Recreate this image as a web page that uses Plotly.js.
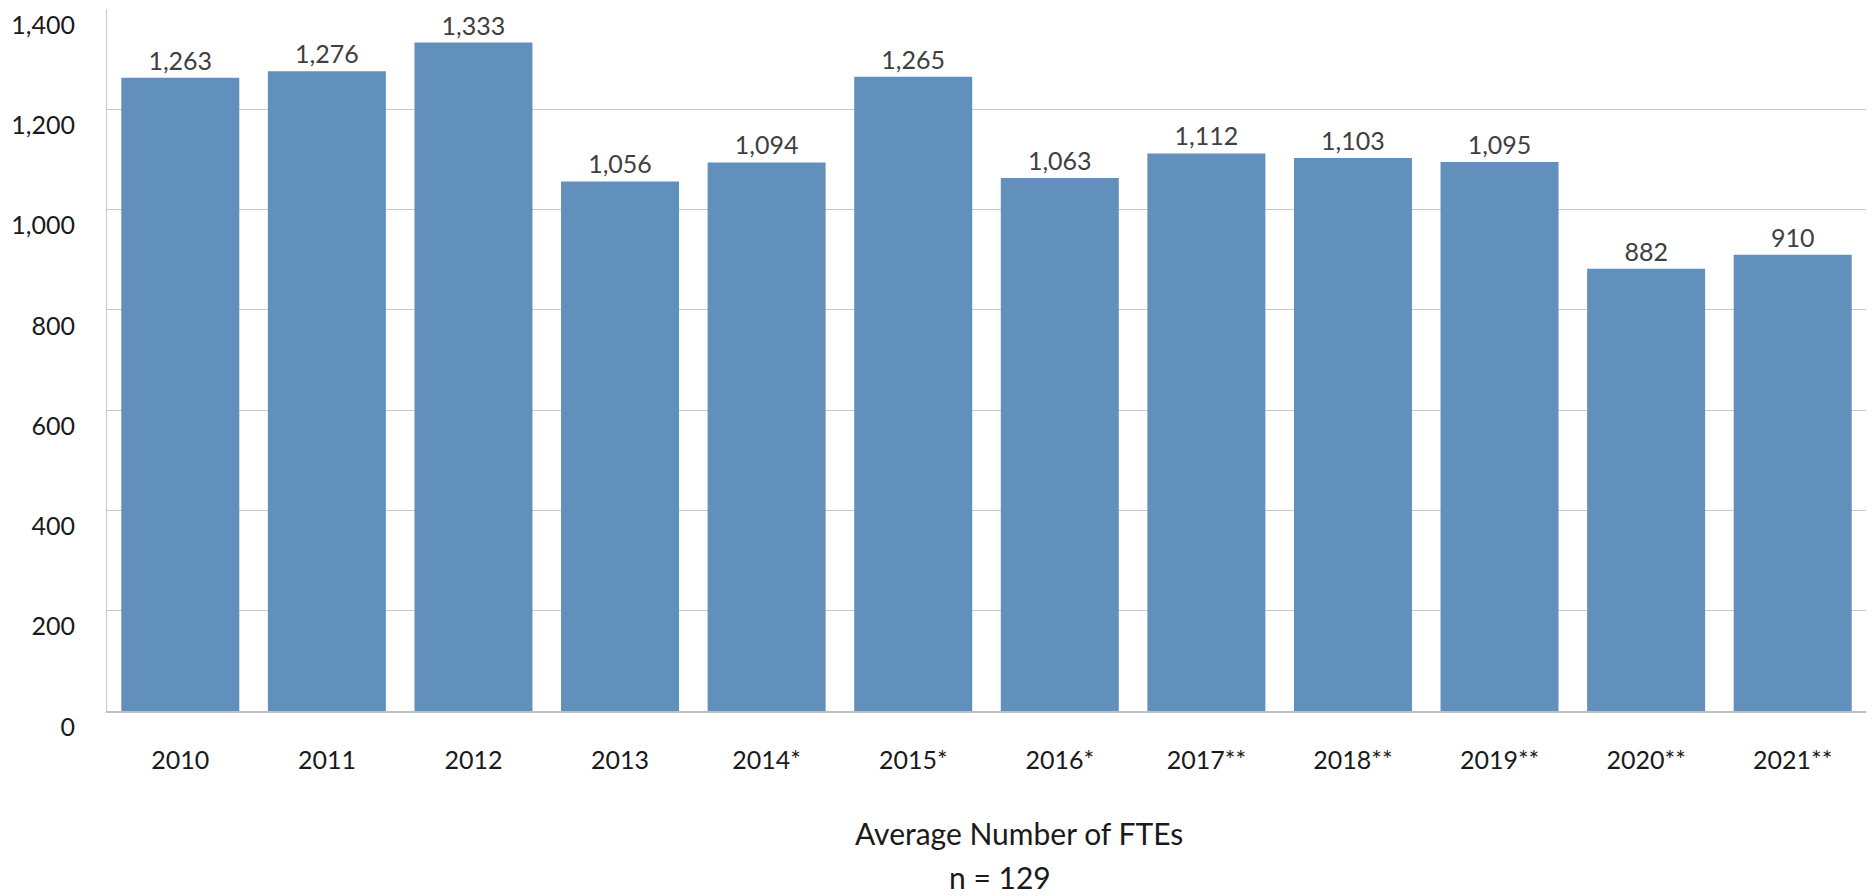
<!DOCTYPE html>
<html>
<head>
<meta charset="utf-8">
<script src="https://cdn.plot.ly/plotly-3.0.1.min.js"></script>
<style>
  html, body { margin: 0; padding: 0; background: #fff; }
  #myDiv { width: 1872px; height: 896px; }
</style>
</head>
<body>
<div id="myDiv"></div>
<script>
// years and average FTE counts
var years = ['2010', '2011', '2012', '2013', '2014*', '2015*', '2016*',
             '2017**', '2018**', '2019**', '2020**', '2021**'];
var ftes = [1263, 1276, 1333, 1056, 1094, 1265, 1063, 1112, 1103, 1095, 882, 910];
var yTicks = [0, 200, 400, 600, 800, 1000, 1200, 1400];

var bars = {
  x: years,
  y: ftes,
  type: 'bar',
  marker: {color: 'rgb(97, 144, 189)'},
  text: ftes.map(function (v) { return v.toLocaleString('en-US'); }),
  textposition: 'outside',
  textfont: {family: 'Lato, sans-serif', size: 25, color: '#404040'},
  cliponaxis: false,
  hoverinfo: 'x+y'
};

var layout = {
  width: 1872, height: 896,
  margin: {l: 107, r: 6, t: 9, b: 185},
  paper_bgcolor: '#fff',
  plot_bgcolor: '#fff',
  font: {family: 'Lato, sans-serif', size: 25, color: '#1a1a1a'},
  bargap: 0.195,
  showlegend: false,
  xaxis: {
    type: 'category',
    showline: true, linecolor: '#bfbfbf', linewidth: 2,
    ticks: '', ticklabelstandoff: 26,
    tickfont: {size: 25, color: '#1a1a1a'}
  },
  yaxis: {
    range: [0, 1400],
    tickvals: yTicks,
    ticktext: yTicks.map(function (v) { return v.toLocaleString('en-US'); }),
    showline: true, linecolor: '#c8c8c8', linewidth: 1,
    showgrid: true, gridcolor: '#c8c8c8', gridwidth: 1,
    zeroline: false,
    ticks: '', ticklabelstandoff: 26, ticklabelshift: 16,
    tickfont: {size: 25, color: '#1a1a1a'}
  },
  // axis caption, two lines not centred on each other
  annotations: [
    {text: 'Average Number of FTEs', xref: 'paper', yref: 'paper',
     x: (853 - 107) / 1759, y: (896 - 185 - 833) / 702, showarrow: false,
     xanchor: 'left', yanchor: 'middle', font: {size: 30, color: '#1a1a1a'}},
    {text: 'n = 129', xref: 'paper', yref: 'paper',
     x: (947 - 107) / 1759, y: (896 - 185 - 877) / 702, showarrow: false,
     xanchor: 'left', yanchor: 'middle', font: {size: 30, color: '#1a1a1a'}}
  ]
};

Plotly.newPlot('myDiv', [bars], layout, {displayModeBar: false});
</script>
</body>
</html>
